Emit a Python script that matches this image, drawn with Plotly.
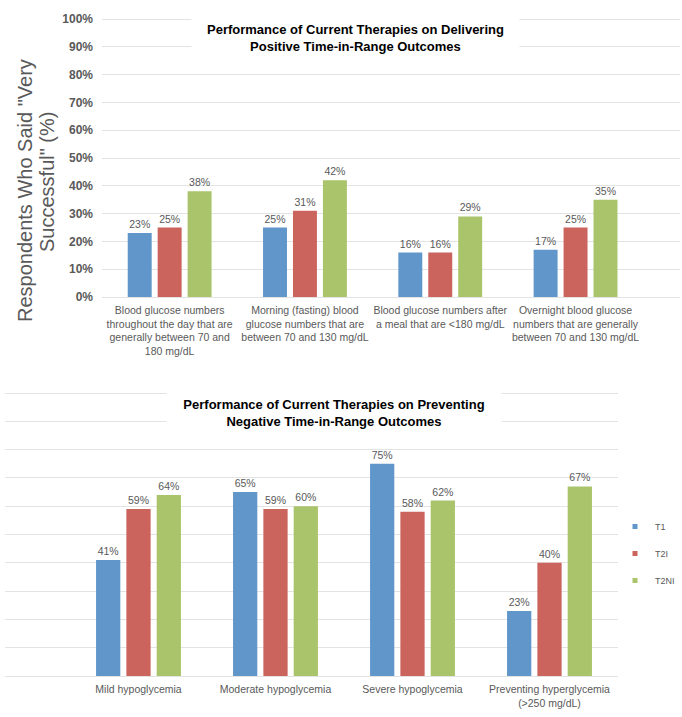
import plotly.graph_objects as go

W, H = 682, 717

series_names = ["T1", "T2I", "T2NI"]
colors = ["#6196CA", "#CC645E", "#A9C46B"]

top_categories = [
    "Blood glucose numbers<br>throughout the day that are<br>generally between 70 and<br>180 mg/dL",
    "Morning (fasting) blood<br>glucose numbers that are<br>between 70 and 130 mg/dL",
    "Blood glucose numbers after<br>a meal that are &lt;180 mg/dL",
    "Overnight blood glucose<br>numbers that are generally<br>between 70 and 130 mg/dL",
]
top_T1 = [23, 25, 16, 17]
top_T2I = [25, 31, 16, 25]
top_T2NI = [38, 42, 29, 35]

bottom_categories = [
    "Mild hypoglycemia",
    "Moderate hypoglycemia",
    "Severe hypoglycemia",
    "Preventing hyperglycemia<br>(&gt;250 mg/dL)",
]
bottom_T1 = [41, 65, 75, 23]
bottom_T2I = [59, 59, 58, 40]
bottom_T2NI = [64, 60, 62, 67]

y_ticks = [0, 10, 20, 30, 40, 50, 60, 70, 80, 90, 100]

top_title = "Performance of Current Therapies on Delivering<br>Positive Time-in-Range Outcomes"
bottom_title = "Performance of Current Therapies on Preventing<br>Negative Time-in-Range Outcomes"
y_title_1 = "Respondents Who Said \"Very"
y_title_2 = "Successful\" (%)"

GRAY = "#595959"
GRID = "#E3E3E3"
FONT = "Liberation Sans, Arial, sans-serif"

fig = go.Figure()

top_vals = [top_T1, top_T2I, top_T2NI]
bottom_vals = [bottom_T1, bottom_T2I, bottom_T2NI]

for name, col, vals in zip(series_names, colors, top_vals):
    fig.add_trace(go.Bar(
        x=top_categories, y=vals, name=name, marker=dict(color=col, line=dict(width=0)),
        text=[f"{v}%" for v in vals], textposition="outside", cliponaxis=False,
        constraintext="none",
        textfont=dict(size=10.5, color=GRAY, family=FONT),
        showlegend=False, xaxis="x", yaxis="y", hoverinfo="skip",
    ))

for name, col, vals in zip(series_names, colors, bottom_vals):
    fig.add_trace(go.Bar(
        x=bottom_categories, y=vals, name=name, marker=dict(color=col, line=dict(width=0)),
        text=[f"{v}%" for v in vals], textposition="outside", cliponaxis=False,
        constraintext="none",
        textfont=dict(size=10.5, color=GRAY, family=FONT),
        showlegend=False, xaxis="x2", yaxis="y2", hoverinfo="skip",
    ))

# legend entries
for name, col in zip(series_names, colors):
    fig.add_trace(go.Scatter(
        x=[None], y=[None], mode="markers", name=name, legendgroup=name,
        marker=dict(symbol="square", size=5, color=col),
        xaxis="x2", yaxis="y2", showlegend=True,
    ))

def py(px):
    return 1 - px / H

def pxx(px):
    return px / W

t0, t100 = 297, 19
tu = (t0 - t100) / 100
b0, b100 = 676, 393
bu = (b0 - b100) / 100
pad = 0.6

fig.update_layout(
    width=W, height=H,
    margin=dict(l=0, r=0, t=0, b=0, autoexpand=False),
    paper_bgcolor="white", plot_bgcolor="white",
    font=dict(family=FONT, color=GRAY),
    barmode="group", bargap=0.336, bargroupgap=0.2,
    xaxis=dict(
        domain=[pxx(102), pxx(680)], range=[-0.5, 3.5 + (680 - 102) / 135.3 - 4],
        anchor="y", showgrid=False, zeroline=False, showline=False, ticks="",
        automargin=False, ticklabelstandoff=4,
        tickfont=dict(size=10.5, color=GRAY, family=FONT),
    ),
    yaxis=dict(
        domain=[py(t0 + pad * tu), py(t100 - pad * tu)], range=[-pad, 100 + pad],
        anchor="x", tickvals=y_ticks, ticktext=[f"{v}%" for v in y_ticks],
        showgrid=True, gridcolor=GRID, gridwidth=1.2, zeroline=False, showline=False,
        ticks="", ticklabelstandoff=8, automargin=False,
        tickfont=dict(size=12, color=GRAY, family=FONT, weight="bold"),
    ),
    xaxis2=dict(
        domain=[pxx(5), pxx(618)], range=[3.5 - (618 - 5) / 137.0, 3.5],
        anchor="y2", showgrid=False, zeroline=False, showline=False, ticks="",
        automargin=False, ticklabelstandoff=4,
        tickfont=dict(size=10.5, color=GRAY, family=FONT),
    ),
    yaxis2=dict(
        domain=[py(b0 + pad * bu), py(b100 - pad * bu)], range=[-pad, 100 + pad],
        anchor="x2", tickvals=y_ticks, showticklabels=False,
        showgrid=True, gridcolor=GRID, gridwidth=1.2, zeroline=False, showline=False,
        ticks="", automargin=False,
    ),
    legend=dict(
        x=pxx(615), y=py(512), xanchor="left", yanchor="top",
        font=dict(size=9, color=GRAY, family=FONT),
        itemwidth=30, tracegroupgap=8, bgcolor="rgba(0,0,0,0)",
    ),
    annotations=[
        dict(text=top_title, xref="paper", yref="paper", x=pxx(355), y=py(38.5),
             xanchor="center", yanchor="middle", showarrow=False, bgcolor="white",
             width=325, height=48, font=dict(size=13, color="black", family=FONT, weight="bold")),
        dict(text=bottom_title, xref="paper", yref="paper", x=pxx(334), y=py(413),
             xanchor="center", yanchor="middle", showarrow=False, bgcolor="white",
             width=332, height=52, font=dict(size=13, color="black", family=FONT, weight="bold")),
        dict(text=y_title_1, xref="paper", yref="paper", x=pxx(25), y=py(191),
             xanchor="center", yanchor="middle", showarrow=False, textangle=-90,
             font=dict(size=20, color=GRAY, family=FONT)),
        dict(text=y_title_2, xref="paper", yref="paper", x=pxx(47), y=py(182),
             xanchor="center", yanchor="middle", showarrow=False, textangle=-90,
             font=dict(size=20, color=GRAY, family=FONT)),
    ],
)

fig.write_html(
    "out.html",
    config={"displayModeBar": False},
    post_script="document.body.style.margin='0';document.body.style.overflow='hidden';",
)
